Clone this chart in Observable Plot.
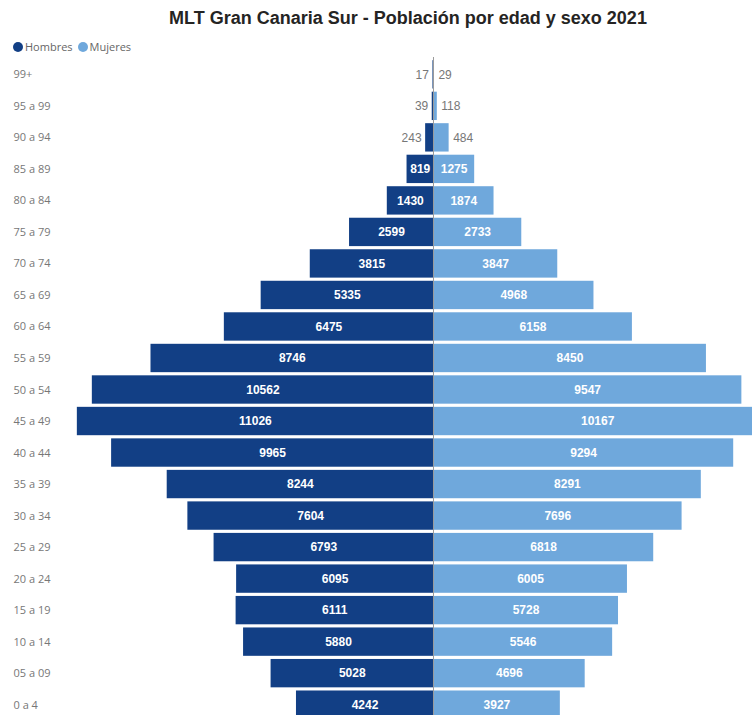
<!DOCTYPE html>
<html>
<head>
<meta charset="utf-8">
<script src="https://cdn.jsdelivr.net/npm/d3@7"></script>
<script src="https://cdn.jsdelivr.net/npm/@observablehq/plot@0.6"></script>
<style>
  html, body { margin: 0; padding: 0; background: #fff; overflow: hidden; }
  #wrap { width: 752px; height: 715px; overflow: hidden; position: relative; }
  #title { height: 36px; line-height: 36px; margin-left: 64px; width: 688px; text-align: center;
    font-family: "Liberation Sans", Arial, sans-serif; font-weight: bold; font-size: 18px; color: #252423; }
  #legend { height: 21px; display: flex; align-items: center; padding-left: 13px;
    font-family: "Open Sans", sans-serif; font-size: 11px; color: #666; }
  #legend .sw { width: 10px; height: 10px; border-radius: 50%; display: inline-block; margin-right: 2px; }
  #legend .item { display: flex; align-items: center; margin-right: 5px; }
</style>
</head>
<body>
<div id="wrap">
  <div id="title">MLT Gran Canaria Sur - Población por edad y sexo 2021</div>
  <div id="legend"></div>
  <div id="chart"></div>
</div>
<script>
const ages = ["99+","95 a 99","90 a 94","85 a 89","80 a 84","75 a 79","70 a 74","65 a 69","60 a 64","55 a 59","50 a 54","45 a 49","40 a 44","35 a 39","30 a 34","25 a 29","20 a 24","15 a 19","10 a 14","05 a 09","0 a 4"];
const hombres = [17,39,243,819,1430,2599,3815,5335,6475,8746,10562,11026,9965,8244,7604,6793,6095,6111,5880,5028,4242];
const mujeres = [29,118,484,1275,1874,2733,3847,4968,6158,8450,9547,10167,9294,8291,7696,6818,6005,5728,5546,4696,3927];
const series = ["Hombres","Mujeres"];
const colors = ["#123f85","#6fa8dc"];

const rows = [];
ages.forEach((a, i) => {
  rows.push({age: a, sex: "Hombres", value: hombres[i], x: -hombres[i]});
  rows.push({age: a, sex: "Mujeres", value: mujeres[i], x: mujeres[i]});
});
const inside = rows.filter(d => d.value > 700);
const outsideH = rows.filter(d => d.value <= 700 && d.sex === "Hombres");
const outsideM = rows.filter(d => d.value <= 700 && d.sex === "Mujeres");

const legend = document.getElementById("legend");
series.forEach((s, i) => {
  const it = document.createElement("span");
  it.className = "item";
  it.innerHTML = `<span class="sw" style="background:${colors[i]}"></span>${s}`;
  legend.appendChild(it);
});

const chart = Plot.plot({
  width: 752,
  height: 665,
  marginTop: 0, marginBottom: 0, marginLeft: 0, marginRight: 0,
  x: {domain: [-13405, 9876], axis: null},
  y: {domain: ages, padding: 0.1, round: false, axis: null},
  color: {domain: series, range: colors},
  style: {fontFamily: "'Liberation Sans', Arial, sans-serif", overflow: "hidden"},
  marks: [
    Plot.barX(rows, {x1: 0, x2: "x", y: "age", fill: "sex"}),
    Plot.ruleX([0], {stroke: "#9a9a9a", strokeWidth: 1}),
    Plot.text(inside, {x: d => d.x / 2, y: "age", text: d => String(d.value), fill: "white", fontWeight: "bold", fontSize: 12}),
    Plot.text(outsideH, {x: "x", y: "age", text: d => String(d.value), fill: "#777", fontSize: 12, textAnchor: "end", dx: -4}),
    Plot.text(outsideM, {x: "x", y: "age", text: d => String(d.value), fill: "#777", fontSize: 12, textAnchor: "start", dx: 4}),
    Plot.text(ages, {y: d => d, text: d => d, frameAnchor: "left", dx: 13, textAnchor: "start", fill: "#777", fontSize: 11, fontFamily: "'Open Sans', sans-serif"})
  ]
});
document.getElementById("chart").appendChild(chart);
</script>
</body>
</html>
